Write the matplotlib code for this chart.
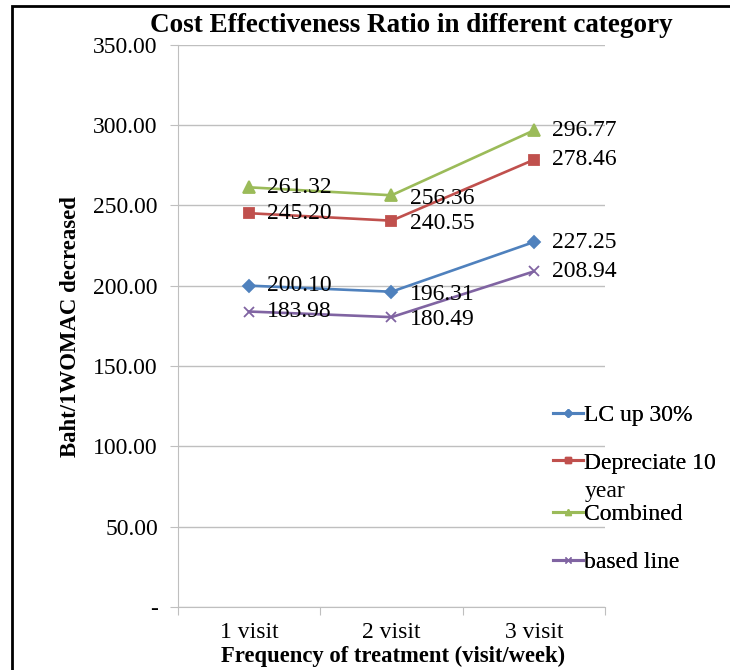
import matplotlib.pyplot as plt
from matplotlib.lines import Line2D
from matplotlib.patches import Rectangle
from matplotlib.ticker import FuncFormatter

plt.rcParams['font.family'] = ['Liberation Serif', 'DejaVu Serif']

visits = ["1 visit", "2 visit", "3 visit"]
lc_up = [200.10, 196.31, 227.25]
depreciate = [245.20, 240.55, 278.46]
combined = [261.32, 256.36, 296.77]
based = [183.98, 180.49, 208.94]

series = [
    ("LC up 30%", lc_up, "#4F81BD", "D", 6.5),
    ("Depreciate 10", depreciate, "#C0504D", "s", 7),
    ("Combined", combined, "#9BBB59", "^", 8),
    ("based line", based, "#8064A2", "x", 7.5),
]

fig = plt.figure(figsize=(7.3, 6.7), dpi=100)
ax = fig.add_axes([0.2438, 0.094, 0.585, 0.839])

xs = [0.5, 1.5, 2.5]
handles = []
for name, vals, col, mk, ms in series:
    ax.plot(xs, vals, color=col, lw=1.9, marker=mk, ms=ms, mew=1.3, zorder=3)
    handles.append(Line2D([], [], color=col, lw=2.2, marker=mk, ms=4.5, mew=1, label=name))
    for i, (x, v) in enumerate(zip(xs, vals)):
        dy = -2 if i == 1 else 0
        ax.annotate(f"{v:.2f}", (x, v), xytext=(13, dy), textcoords="offset points",
                    va="center", ha="left", fontsize=17, zorder=4)

ax.set_xlim(0, 3)
ax.set_ylim(0, 350)
ax.set_yticks(range(0, 351, 50))
ax.yaxis.set_major_formatter(FuncFormatter(lambda v, p: "-" if v == 0 else f"{v:.2f}"))
ax.set_xticks([0, 1, 2, 3])
ax.set_xticklabels([])
ax.set_xticks(xs, minor=True)
ax.set_xticklabels(visits, minor=True)
ax.tick_params(axis="x", which="minor", length=0, labelsize=17, pad=11)
ax.tick_params(axis="x", which="major", length=6, color="#BFBFBF")
ax.tick_params(axis="y", length=6, color="#BFBFBF", labelsize=17, pad=8.5)

ax.grid(axis="y", color="#BFBFBF", lw=1)
ax.set_axisbelow(True)
for s in ["top", "right"]:
    ax.spines[s].set_visible(False)
ax.spines["left"].set_color("#BFBFBF")
ax.spines["bottom"].set_color("#BFBFBF")

fig.text(0.564, 0.962, "Cost Effectiveness Ratio in different category",
         ha="center", va="center", fontsize=19.5, fontweight="bold")
fig.text(0.096, 0.512, "Baht/1WOMAC decreased", rotation=90, ha="center",
         va="center", fontsize=16.4, fontweight="bold")
fig.text(0.538, 0.021, "Frequency of treatment (visit/week)", ha="center",
         va="center", fontsize=16.3, fontweight="bold")

# one legend per entry so the rows can sit unevenly
legend_y = [415, 463, 514, 562]
for h, yp in zip(handles, legend_y):
    leg = fig.legend(handles=[h], loc="center left", bbox_to_anchor=(0.757, 1 - yp / 670),
                     frameon=False, fontsize=17, handlelength=1.3, handletextpad=0.05,
                     borderaxespad=0, borderpad=0)
    fig.add_artist(leg)
fig.text(0.801, 1 - 491 / 670, "year", ha="left", va="center", fontsize=17)

# outer frame
fig.patches.append(Rectangle((0.016, -0.1), 1.1, 1.091, transform=fig.transFigure,
                             fill=False, ec="black", lw=2, clip_on=False))

fig.savefig("out.png", dpi=100)
